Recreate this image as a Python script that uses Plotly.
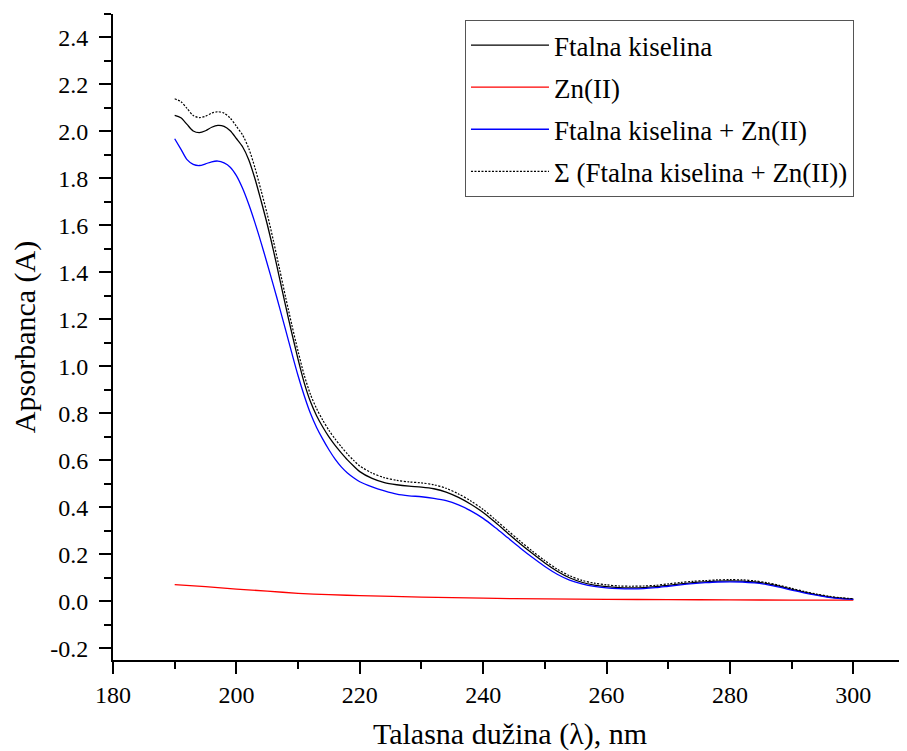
import plotly.graph_objects as go

# Wavelength grid (nm)
wavelength = [190, 191, 192, 193, 194, 195, 196, 197, 198, 199, 200, 201, 202, 203, 204,
              205, 206, 207, 208, 209, 210, 211, 212, 213, 214, 215, 216, 217, 218, 219,
              220, 222, 224, 226, 228, 230, 232, 234, 236, 238, 240, 242, 244, 246, 248,
              250, 252, 254, 256, 258, 260, 262, 264, 266, 268, 270, 272, 274, 276, 278,
              280, 282, 284, 286, 288, 290, 292, 294, 296, 298, 300]

ftalna = [2.068, 2.058, 2.030, 2.002, 1.995, 2.003, 2.018, 2.026, 2.022, 2.003, 1.970,
          1.935, 1.880, 1.800, 1.705, 1.605, 1.494, 1.375, 1.255, 1.140, 1.030, 0.930,
          0.850, 0.790, 0.742, 0.700, 0.664, 0.632, 0.602, 0.576, 0.552, 0.523, 0.505,
          0.496, 0.490, 0.486, 0.479, 0.465, 0.442, 0.413, 0.378, 0.335, 0.290, 0.245,
          0.203, 0.163, 0.128, 0.100, 0.081, 0.069, 0.062, 0.058, 0.057, 0.058, 0.062,
          0.068, 0.074, 0.079, 0.083, 0.086, 0.087, 0.086, 0.082, 0.075, 0.064, 0.051,
          0.039, 0.028, 0.019, 0.013, 0.009]

ftalna_zn = [1.969, 1.925, 1.880, 1.860, 1.855, 1.862, 1.871, 1.874, 1.866, 1.848, 1.812,
             1.758, 1.690, 1.612, 1.527, 1.437, 1.345, 1.250, 1.153, 1.055, 0.960, 0.875,
             0.800, 0.740, 0.690, 0.645, 0.605, 0.572, 0.546, 0.526, 0.509, 0.487, 0.470,
             0.456, 0.449, 0.445, 0.438, 0.428, 0.410, 0.385, 0.353, 0.313, 0.270, 0.227,
             0.186, 0.148, 0.115, 0.090, 0.074, 0.063, 0.057, 0.054, 0.053, 0.054, 0.058,
             0.064, 0.070, 0.075, 0.079, 0.082, 0.083, 0.082, 0.078, 0.071, 0.060, 0.047,
             0.036, 0.026, 0.017, 0.011, 0.008]

suma = [2.139, 2.127, 2.098, 2.068, 2.059, 2.065, 2.078, 2.084, 2.078, 2.057, 2.022,
        1.985, 1.928, 1.846, 1.749, 1.648, 1.535, 1.414, 1.292, 1.175, 1.064, 0.962,
        0.881, 0.820, 0.771, 0.728, 0.691, 0.658, 0.627, 0.600, 0.576, 0.546, 0.526,
        0.515, 0.508, 0.504, 0.496, 0.481, 0.457, 0.427, 0.391, 0.347, 0.301, 0.256,
        0.213, 0.173, 0.137, 0.109, 0.089, 0.077, 0.070, 0.065, 0.064, 0.065, 0.068,
        0.074, 0.080, 0.085, 0.088, 0.091, 0.092, 0.091, 0.087, 0.079, 0.068, 0.055,
        0.042, 0.031, 0.022, 0.015, 0.011]

wavelength_zn = [190, 195, 200, 205, 210, 215, 220, 230, 240, 250, 260, 270, 280, 290, 300]
zn = [0.071, 0.062, 0.052, 0.043, 0.034, 0.028, 0.024, 0.018, 0.013, 0.010, 0.008,
      0.007, 0.006, 0.005, 0.005]

names = ["Ftalna kiselina", "Zn(II)", "Ftalna kiselina + Zn(II)", "Σ (Ftalna kiselina + Zn(II))"]

y_tickvals = [-0.2, 0.0, 0.2, 0.4, 0.6, 0.8, 1.0, 1.2, 1.4, 1.6, 1.8, 2.0, 2.2, 2.4]
y_ticktext = ["-0.2", "0.0", "0.2", "0.4", "0.6", "0.8", "1.0", "1.2", "1.4", "1.6",
              "1.8", "2.0", "2.2", "2.4"]
x_tickvals = [180, 200, 220, 240, 260, 280, 300]
x_ticktext = ["180", "200", "220", "240", "260", "280", "300"]

FONT = "Liberation Serif"

fig = go.Figure()
fig.add_trace(go.Scatter(x=wavelength, y=ftalna, mode="lines", name=names[0],
                         line=dict(color="black", width=1.3, shape="spline", smoothing=0.8),
                         legendgroup="a"))
fig.add_trace(go.Scatter(x=wavelength_zn, y=zn, mode="lines", name=names[1],
                         line=dict(color="#ff0000", width=1.3, shape="spline", smoothing=0.8),
                         legendgroup="b"))
fig.add_trace(go.Scatter(x=wavelength, y=ftalna_zn, mode="lines", name=names[2],
                         line=dict(color="#0000ff", width=1.3, shape="spline", smoothing=0.8),
                         legendgroup="c"))
fig.add_trace(go.Scatter(x=wavelength, y=suma, mode="lines", name=names[3],
                         line=dict(color="black", width=1.2, shape="spline", smoothing=0.8,
                                   dash="2px,1.5px"),
                         legendgroup="d"))

fig.update_layout(
    width=899, height=743,
    margin=dict(l=105, r=0, t=6, b=91),
    paper_bgcolor="white", plot_bgcolor="white",
    font=dict(family=FONT, color="black"),
    showlegend=True,
    legend=dict(x=0.4433, y=0.9907, xanchor="left", yanchor="top",
                bordercolor="#555555", borderwidth=1, bgcolor="white",
                font=dict(family=FONT, size=27, color="black"),
                itemwidth=78, tracegroupgap=4, traceorder="grouped"),
    xaxis=dict(range=[180, 308.7], showgrid=False, zeroline=False,
               showline=True, linecolor="black", linewidth=2,
               ticks="outside", ticklen=12, tickwidth=2, tickcolor="black",
               tickmode="array", tickvals=x_tickvals, ticktext=x_ticktext,
               minor=dict(ticks="outside", ticklen=7, tickwidth=2, tickcolor="black",
                          tick0=180, dtick=10),
               tickfont=dict(family=FONT, size=24, color="black"),
               title=dict(text="Talasna dužina (λ), nm",
                          font=dict(family=FONT, size=30, color="black"), standoff=20)),
    yaxis=dict(range=[-0.25, 2.5], showgrid=False, zeroline=False,
               showline=True, linecolor="black", linewidth=2,
               ticks="outside", ticklen=12, tickwidth=2, tickcolor="black",
               ticklabelstandoff=6,
               tickmode="array", tickvals=y_tickvals, ticktext=y_ticktext,
               minor=dict(ticks="outside", ticklen=7, tickwidth=2, tickcolor="black",
                          tick0=0, dtick=0.1),
               tickfont=dict(family=FONT, size=24, color="black"),
               title=dict(text="Apsorbanca (A)",
                          font=dict(family=FONT, size=30, color="black"), standoff=8)),
)

fig.write_html("out.html")
